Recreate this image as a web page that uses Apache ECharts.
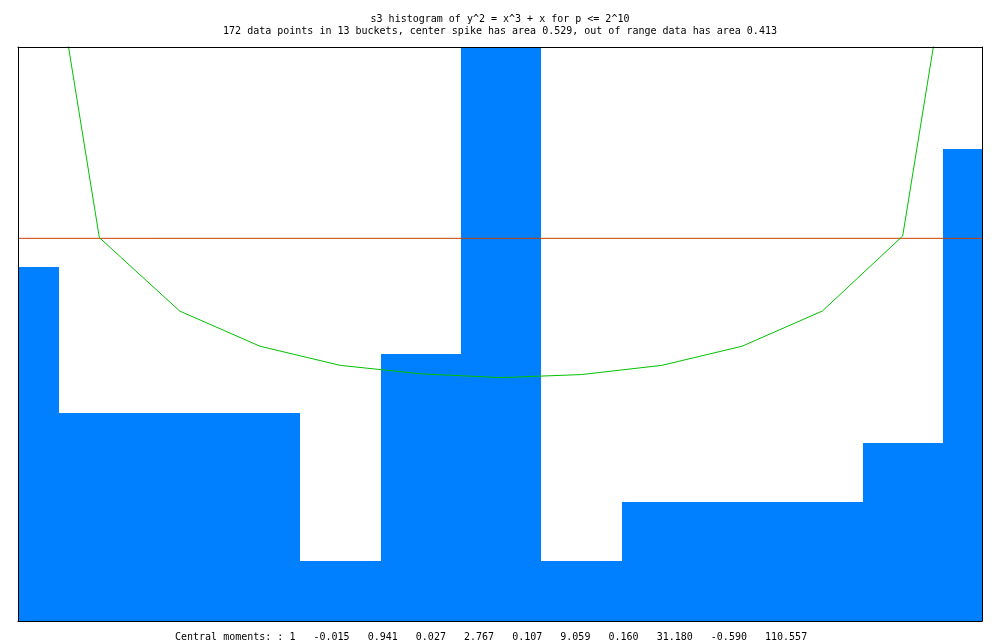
<!DOCTYPE html>
<html>
<head>
<meta charset="utf-8">
<script src="https://cdn.jsdelivr.net/npm/echarts@6/dist/echarts.min.js"></script>
<style>
  html, body { margin: 0; padding: 0; background: #fff; }
  #chart { width: 1000px; height: 640px; }
</style>
</head>
<body>
<div id="chart"></div>
<script>
// 13 buckets on [-1, 1], centers at -1 + k/6
var bucketCenters = [-1, -5/6, -4/6, -3/6, -2/6, -1/6, 0, 1/6, 2/6, 3/6, 4/6, 5/6, 1];
var bucketWidth = 1 / 6;
// histogram heights (center spike runs off the top)
var bucketValues = [0.462, 0.272, 0.272, 0.272, 0.078, 0.349, 3.17, 0.078, 0.155, 0.155, 0.155, 0.232, 0.617];
// expected density curve (green), same x positions
var curveValues = [1.15, 0.501, 0.405, 0.359, 0.334, 0.323, 0.318, 0.322, 0.334, 0.359, 0.405, 0.503, 1.15];
// flat reference level (orange)
var flatLevel = 0.5;
var titleLines = [
  "s3 histogram of y^2 = x^3 + x for p <= 2^10",
  "172 data points in 13 buckets, center spike has area 0.529, out of range data has area 0.413"
];
var momentsText = "Central moments: : 1   -0.015   0.941   0.027   2.767   0.107   9.059   0.160   31.180   -0.590   110.557";

var monoFont = "DejaVu Sans Mono";
var myChart = echarts.init(document.getElementById("chart"), null, { renderer: "canvas" });

var barData = [];
for (var i = 0; i < bucketCenters.length; i++) {
  barData.push([bucketCenters[i], bucketValues[i]]);
}
var curveData = [];
for (var i = 0; i < bucketCenters.length; i++) {
  curveData.push([bucketCenters[i], curveValues[i]]);
}

// one rect per bucket, snapped to whole pixels so neighbours don't leave seams
function renderBar(params, api) {
  var c = api.value(0);
  var v = api.value(1);
  var p0 = api.coord([c - bucketWidth / 2, v]);
  var p1 = api.coord([c + bucketWidth / 2, 0]);
  var cs = params.coordSys;
  var x0 = Math.round(p0[0]);
  var x1 = Math.round(p1[0]);
  var y0 = Math.round(p0[1]);
  var y1 = Math.round(p1[1]);
  var rect = echarts.graphic.clipRectByRect(
    { x: x0, y: y0, width: x1 - x0, height: y1 - y0 },
    { x: cs.x, y: cs.y, width: cs.width, height: cs.height }
  );
  if (!rect) return;
  return {
    type: "rect",
    shape: rect,
    style: { fill: "#0080ff" }
  };
}

var hiddenAxis = {
  type: "value",
  show: false,
  splitLine: { show: false }
};
var frameAxis = {
  type: "value",
  gridIndex: 1,
  axisLine: { show: true, onZero: false, lineStyle: { color: "#000", width: 1 } },
  axisTick: { show: false },
  axisLabel: { show: false },
  splitLine: { show: false },
  z: 10
};
var textStyle = { fontFamily: monoFont, fontSize: 10, fontWeight: "normal", color: "#000" };

var option = {
  animation: false,
  backgroundColor: "#fff",
  title: [
    { text: titleLines[0], left: "center", top: 9, textStyle: textStyle },
    { text: titleLines[1], left: "center", top: 21, textStyle: textStyle },
    { text: momentsText, left: 170, top: 627, textStyle: textStyle }
  ],
  // grid 0 holds the data, grid 1 only draws the black frame
  grid: [
    { left: 19, right: 17, top: 47, bottom: 19 },
    { left: 18, right: 18, top: 47, bottom: 19 }
  ],
  xAxis: [
    Object.assign({}, hiddenAxis, { gridIndex: 0, min: -1, max: 1 }),
    Object.assign({}, frameAxis, { min: -1, max: 1, position: "bottom" }),
    Object.assign({}, frameAxis, { min: -1, max: 1, position: "top" })
  ],
  yAxis: [
    Object.assign({}, hiddenAxis, { gridIndex: 0, min: 0, max: 0.75 }),
    Object.assign({}, frameAxis, { min: 0, max: 0.75, position: "left" }),
    Object.assign({}, frameAxis, { min: 0, max: 0.75, position: "right" })
  ],
  series: [
    {
      name: "histogram",
      type: "custom",
      renderItem: renderBar,
      data: barData,
      z: 2
    },
    {
      name: "flat",
      type: "line",
      data: [[-1, flatLevel], [1, flatLevel]],
      symbol: "none",
      lineStyle: { color: "#c84000", width: 1 },
      z: 3
    },
    {
      name: "expected",
      type: "line",
      data: curveData,
      symbol: "none",
      clip: true,
      lineStyle: { color: "#00c000", width: 1 },
      z: 4
    }
  ]
};

myChart.setOption(option);
</script>
</body>
</html>
